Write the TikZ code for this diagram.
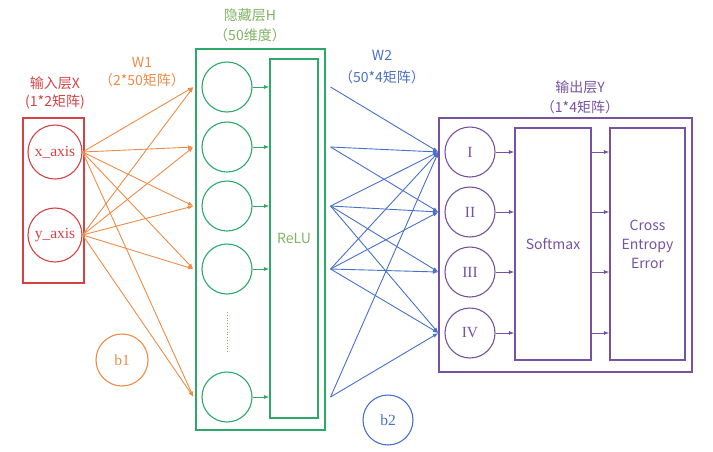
\documentclass[tikz,border=0pt]{standalone}
\usepackage{fontspec}
\setmainfont{Liberation Serif}
\newfontfamily\cjk{Noto Sans CJK SC}
\usetikzlibrary{arrows.meta}

\definecolor{inred}{RGB}{212,66,70}
\definecolor{wone}{RGB}{236,140,72}
\definecolor{hidgreen}{RGB}{44,168,104}
\definecolor{hidtext}{RGB}{128,178,100}
\definecolor{wtwo}{RGB}{72,112,200}
\definecolor{outpurple}{RGB}{118,82,160}

\begin{document}
\begin{tikzpicture}
[x=1pt,y=-1pt,
neuron/.style={circle,minimum size=50pt,inner sep=0pt,line width=1.1pt,font=\fontsize{15.5}{18}\selectfont},
layer/.style={rectangle,inner sep=0pt,line width=1.1pt},
title/.style={font=\cjk\fontsize{14}{17}\selectfont},
wire/.style={-{Latex[length=5.5pt,width=4pt]},line width=0.9pt},
]
\useasboundingbox (0,0) rectangle (713,451);

% input layer
\node [layer,draw=inred,minimum width=61pt,minimum height=165pt] (X) at (53.5,200.5){};
\node [neuron,draw=inred,text=inred,minimum size=54pt] (x1) at (55,152){x\_axis};
\node [neuron,draw=inred,text=inred,minimum size=54pt] (x2) at (55,235){y\_axis};
\node [title,text=inred] (Xt1) at (55,83){输入层X};
\node [title,text=inred] (Xt2) at (55,102){(1*2矩阵)};

% hidden layer
\node [layer,draw=hidgreen,minimum width=129pt,minimum height=381pt] (H) at (260.5,239.5){};
\node [layer,draw=hidgreen,minimum width=48pt,minimum height=359pt,text=hidtext,font=\cjk\fontsize{14}{17}\selectfont] (relu) at (294,238.5){ReLU};
\node [neuron,draw=hidgreen] (h1) at (227,87){};
\node [neuron,draw=hidgreen] (h2) at (227,147){};
\node [neuron,draw=hidgreen] (h3) at (227,206){};
\node [neuron,draw=hidgreen] (h4) at (227,269){};
\node [neuron,draw=hidgreen] (h5) at (227,397){};
\coordinate (dtop) at (227,312);
\coordinate (dbot) at (227,352);
\draw[hidtext,line width=0.8pt,dotted] (dtop) -- (dbot);
\node [title,text=hidtext] (Ht1) at (250,15){隐藏层H};
\node [title,text=hidtext] (Ht2) at (250,35){（50维度）};
\foreach \i in {1,...,5}
  \draw[wire,hidgreen] (h\i.east) -- (relu.west |- h\i);

% output layer
\node [layer,draw=outpurple,minimum width=253pt,minimum height=254pt] (Y) at (565.5,245){};
\node [neuron,draw=outpurple,text=outpurple] (o1) at (470,152){I};
\node [neuron,draw=outpurple,text=outpurple] (o2) at (470,212){II};
\node [neuron,draw=outpurple,text=outpurple] (o3) at (470,272){III};
\node [neuron,draw=outpurple,text=outpurple] (o4) at (470,333){IV};
\node [layer,draw=outpurple,minimum width=76pt,minimum height=232pt,text=outpurple,font=\cjk\fontsize{14}{17}\selectfont] (soft) at (553,244){Softmax};
\node [layer,draw=outpurple,minimum width=75pt,minimum height=232pt,text=outpurple,align=center,font=\cjk\fontsize{14}{19}\selectfont] (cross) at (647.5,244){Cross\\Entropy\\Error};
\node [title,text=outpurple] (Yt1) at (580,87){输出层Y};
\node [title,text=outpurple] (Yt2) at (580,107){（1*4矩阵）};
\foreach \i in {1,...,4}{
  \draw[wire,outpurple] (o\i.east) -- (soft.west |- o\i);
  \draw[wire,outpurple] (soft.east |- o\i) -- (cross.west |- o\i);
}

% weights W1
\node [title,text=wone] (W1a) at (142,62){W1};
\node [title,text=wone] (W1b) at (142,80){（2*50矩阵）};
\foreach \a in {1,2}
  \foreach \i in {1,...,5}
    \draw[wire,wone] (x\a.east) -- ([xshift=-8pt]h\i.west);
\node [neuron,draw=wone,text=wone,minimum size=52pt] (b1) at (122,360){b1};

% weights W2
\node [title,text=wtwo] (W2a) at (382,55){W2};
\node [title,text=wtwo] (W2b) at (382,77){（50*4矩阵）};
\foreach \i/\j in {1/1,2/1,2/2,3/1,3/2,3/3,3/4,4/1,4/2,4/3,4/4,5/1,5/4}
  \draw[wire,wtwo] ([xshift=5pt]H.east |- h\i) -- (Y.west |- o\j);
\node [neuron,draw=wtwo,text=wtwo] (b2) at (388,420){b2};
\end{tikzpicture}
\end{document}
